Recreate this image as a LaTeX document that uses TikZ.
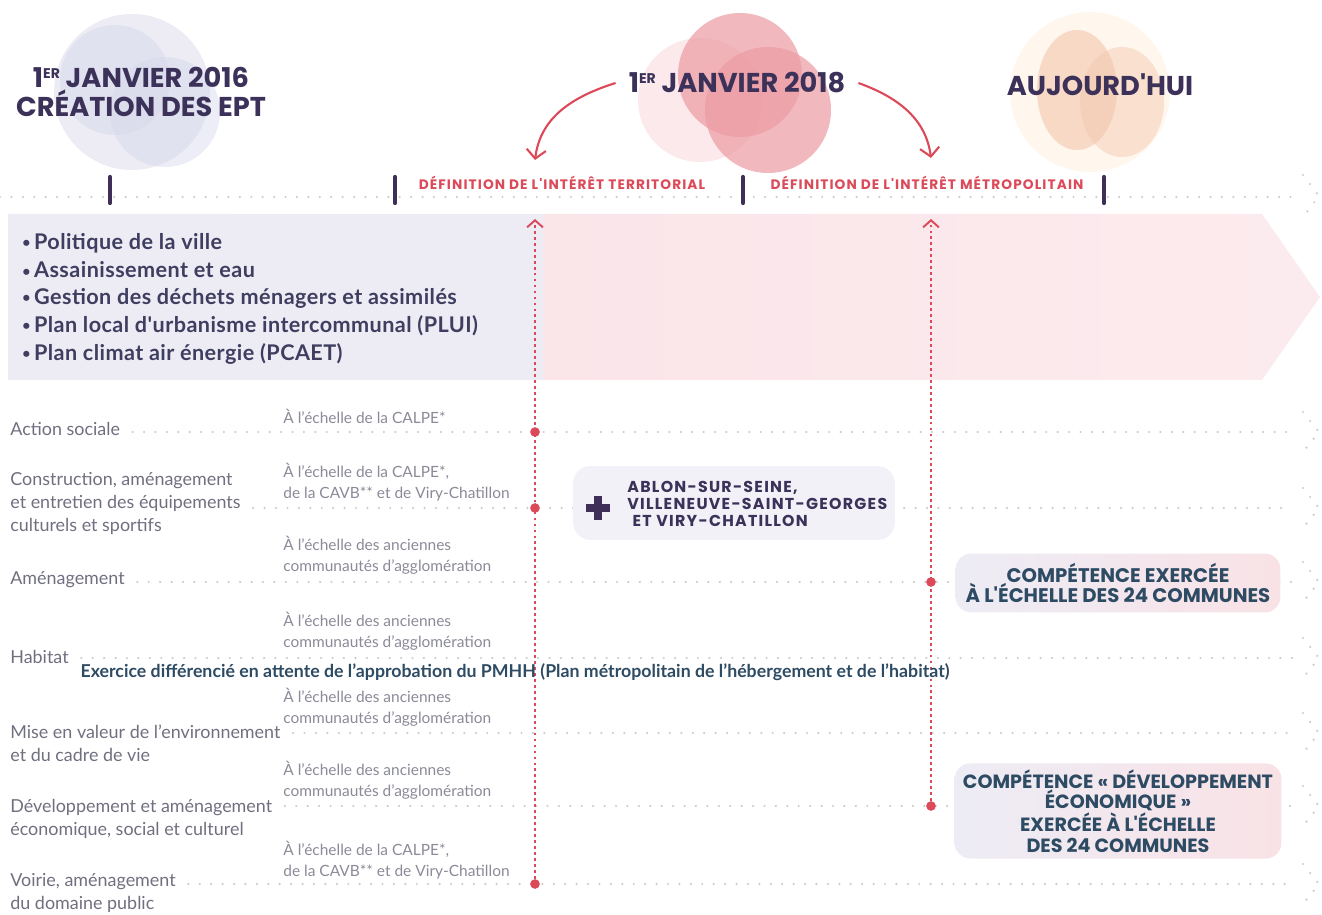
\documentclass[tikz,border=0pt]{standalone}
\usepackage{fontspec}
\setmainfont{Lato}
\newfontfamily\headfont{Poppins}
\newfontfamily\capsfont[LetterSpace=8]{Poppins}
\newfontfamily\bandefont[LetterSpace=2]{Lato}
\usepackage{tikz}
\usetikzlibrary{arrows.meta}
\definecolor{encre}{HTML}{3B3159}
\definecolor{rose}{HTML}{DC4A5A}
\definecolor{bande}{HTML}{3F3E60}
\definecolor{gristexte}{HTML}{6F6F80}
\definecolor{grisclair}{HTML}{8A8A98}
\definecolor{sarcelle}{HTML}{2E4B64}
\definecolor{trait}{HTML}{3E2E58}
\definecolor{lavande}{HTML}{EDECF5}
\definecolor{bleuet}{HTML}{D4D7EA}
\definecolor{pale}{HTML}{F9E2E6}
\definecolor{paleb}{HTML}{FCEBEE}
\definecolor{peche}{HTML}{F2C6AC}
\newcommand{\er}{\raisebox{0.6ex}{\fontsize{8}{8}\selectfont ER}}
\newcommand{\puce}{{\fontsize{8}{8}\selectfont\raisebox{0.25ex}{•}}\,}
\tikzstyle{titre}=[font=\headfont\bfseries\fontsize{15.5}{16.5}\selectfont, text=encre, align=center]
\tikzstyle{rouge}=[font=\capsfont\bfseries\fontsize{7.8}{9}\selectfont, text=rose]
\tikzstyle{puce}=[font=\bandefont\bfseries\fontsize{12.3}{15.9}\selectfont, text=bande, anchor=west, inner sep=0pt]
\tikzstyle{rubrique}=[font=\fontsize{10.2}{13.1}\selectfont, text=gristexte, anchor=west, align=left, inner sep=0pt]
\tikzstyle{echelle}=[font=\fontsize{8.8}{11.7}\selectfont, text=grisclair, anchor=west, align=left, inner sep=0pt]
\tikzstyle{pointilles}=[gray!40, line width=1.4pt, line cap=round, dash pattern=on 0pt off 6.5pt]
\tikzstyle{rdots}=[rose, line width=1.1pt, dash pattern=on 1.6pt off 1.8pt]
\tikzstyle{fleche}=[rose, line width=1.2pt, -{Straight Barb[length=5pt,width=11pt]}]
\tikzstyle{point}=[circle, fill=rose, inner sep=0pt, minimum size=5.5pt]
\tikzstyle{repere}=[trait, line width=2.4pt, line cap=round]
\tikzstyle{encadre}=[rounded corners=9pt, align=center, font=\headfont\bfseries\fontsize{11.2}{11.6}\selectfont, text=sarcelle]

\begin{document}
\begin{tikzpicture}[x=0.02cm, y=-0.02cm]
\useasboundingbox (0,0) rectangle (1322,915);

% cercles des dates
\fill[lavande] (132,92) circle (78);
\fill[bleuet, opacity=.45] (115,80) circle (55);
\fill[bleuet, opacity=.45] (165,112) circle (55);
\fill[rose!12] (700,100) circle (62);
\fill[rose!55, opacity=.72] (740,75) circle (62);
\fill[rose!55, opacity=.72] (768,110) circle (63);
\fill[orange!7] (1090,92) circle (80);
\fill[peche, opacity=.6] (1077,90) ellipse (40 and 60);
\fill[peche, opacity=.45] (1122,102) ellipse (42 and 55);

\node [titre] (j16) at (141,92) {1\er{} JANVIER 2016\\CRÉATION DES EPT};
\node [titre] (j18) at (737,83) {1\er{} JANVIER 2018};
\node [titre] (auj) at (1100,85) {AUJOURD'HUI};

% frise
\draw [pointilles] (0,197) -- (1292,197);
\draw [pointilles] (1303,175) -- (1319,196) -- (1303,217);
\foreach \x in {110,395,743,1104}
    \draw [repere] (\x,177) -- (\x,203);
\node [rouge] (terr) at (562,183) {DÉFINITION DE L'INTÉRÊT TERRITORIAL};
\node [rouge] (metro) at (927,183) {DÉFINITION DE L'INTÉRÊT MÉTROPOLITAIN};

\coordinate (ft) at (535,160);
\coordinate (fm) at (931,158);
\draw [fleche] ([xshift=-4pt]j18.west) .. controls (568,98) and (540,120) .. (ft);
\draw [fleche] ([xshift=4pt]j18.east) .. controls (900,98) and (926,120) .. (fm);

% bande des competences
\shade [left color=pale, right color=paleb] (8,214) -- (1262,214) -- (1320,297) -- (1262,380) -- (8,380) -- cycle;
\fill [lavande] (8,214) rectangle (543,380);
\node [puce] (p1) at (22,243) {\puce Politique de la ville};
\node [puce] (p2) at (22,270) {\puce Assainissement et eau};
\node [puce] (p3) at (22,298) {\puce Gestion des déchets ménagers et assimilés};
\node [puce] (p4) at (22,326) {\puce Plan local d'urbanisme intercommunal (PLUI)};
\node [puce] (p5) at (22,354) {\puce Plan climat air énergie (PCAET)};

% lignes
\node [rubrique] (as) at (10,429) {Action sociale};
\node [rubrique] (ce) at (10,503) {Construction, aménagement\\et entretien des équipements\\culturels et sportifs};
\node [rubrique] (am) at (10,580) {Aménagement};
\node [rubrique] (ha) at (10,657) {Habitat};
\node [rubrique] (mv) at (10,743) {Mise en valeur de l'environnement\\et du cadre de vie};
\node [rubrique] (de) at (10,819) {Développement et aménagement\\économique, social et culturel};
\node [rubrique] (vo) at (10,893) {Voirie, aménagement\\du domaine public};

\foreach \r/\y in {as/432, ce/508, am/582, ha/658, mv/733, de/806, vo/884} {
    \coordinate (y\r) at (0,\y);
    \draw [pointilles, shorten <=7pt] (\r.east |- y\r) -- (1292,\y);
    \draw [pointilles] (1303,\y-20) -- (1319,\y) -- (1303,\y+20);
}

\node [echelle] (e1) at (283,416) {À l'échelle de la CALPE*};
\node [echelle] (e2) at (283,482) {À l'échelle de la CALPE*,\\de la CAVB** et de Viry-Chatillon};
\node [echelle] (e3) at (283,555) {À l'échelle des anciennes\\communautés d'agglomération};
\node [echelle] (e4) at (283,631) {À l'échelle des anciennes\\communautés d'agglomération};
\node [echelle] (e5) at (283,707) {À l'échelle des anciennes\\communautés d'agglomération};
\node [echelle] (e6) at (283,780) {À l'échelle des anciennes\\communautés d'agglomération};
\node [echelle] (e7) at (283,860) {À l'échelle de la CALPE*,\\de la CAVB** et de Viry-Chatillon};

% interet territorial / metropolitain
\node [point] (d1) at (535,432) {};
\node [point] (d2) at (535,508) {};
\node [point] (d3) at (535,884) {};
\node [point] (d4) at (931,582) {};
\node [point] (d5) at (931,806) {};
\coordinate (ht) at (535,219);
\coordinate (hm) at (931,219);
\draw [rdots, -{Straight Barb[length=4pt,width=9pt]}] (d3) -- (ht);
\draw [rdots, -{Straight Barb[length=4pt,width=9pt]}] (d5) -- (hm);

\node [font=\bfseries\fontsize{10.1}{11}\selectfont, text=sarcelle] (pmhh) at (515,672) {Exercice différencié en attente de l'approbation du PMHH (Plan métropolitain de l'hébergement et de l'habitat)};

\node [rounded corners=10pt, fill=lavande!75, minimum width=6.44cm, minimum height=1.48cm] (ablonbox) at (734,503) {};
\draw [trait, line width=4.5pt] (586,508) -- (610,508) (598,496) -- (598,520);
\node [font=\capsfont\bfseries\fontsize{9}{9.7}\selectfont, text=encre, anchor=west, align=left, inner sep=0pt] (ablon) at (627,504) {ABLON-SUR-SEINE,\\VILLENEUVE-SAINT-GEORGES\\\hspace*{3pt}ET VIRY-CHATILLON};

\node [encadre, left color=lavande, right color=pale, minimum width=6.5cm, minimum height=1.18cm] (cexer) at (1118,583) {COMPÉTENCE EXERCÉE\\À L'ÉCHELLE DES 24 COMMUNES};
\node [encadre, left color=lavande, right color=pale, minimum width=6.54cm, minimum height=1.84cm, font=\headfont\bfseries\fontsize{10.9}{11.9}\selectfont] (cdev) at (1118,811) {COMPÉTENCE « DÉVELOPPEMENT\\ÉCONOMIQUE »\\EXERCÉE À L'ÉCHELLE\\DES 24 COMMUNES};
\end{tikzpicture}
\end{document}
